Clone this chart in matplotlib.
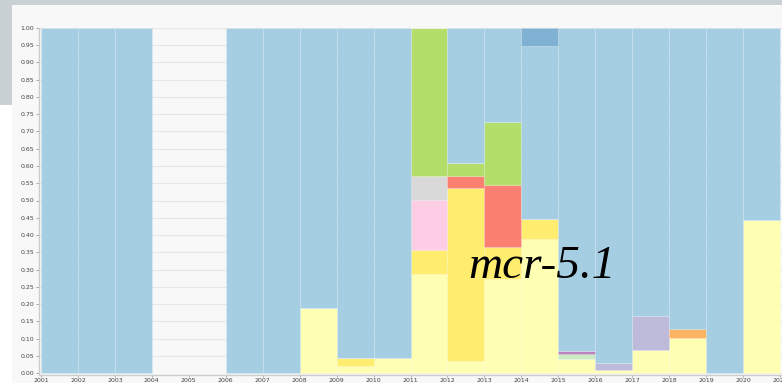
import matplotlib.pyplot as plt
from matplotlib.patches import Rectangle

# years and stacked shares (bottom -> top)
years = list(range(2001, 2021))
light_yellow = [0, 0, 0, 0, 0, 0, 0, 0.19, 0.022, 0.045, 0.286, 0.036, 0.273, 0.389, 0.041, 0.010, 0.067, 0.102, 0, 0.445]
yellow       = [0, 0, 0, 0, 0, 0, 0, 0, 0.022, 0, 0.071, 0.499, 0.092, 0.057, 0, 0, 0, 0, 0, 0]
pink         = [0, 0, 0, 0, 0, 0, 0, 0, 0, 0, 0.144, 0, 0, 0, 0, 0, 0, 0, 0, 0]
grey         = [0, 0, 0, 0, 0, 0, 0, 0, 0, 0, 0.071, 0, 0, 0, 0, 0, 0, 0, 0, 0]
salmon       = [0, 0, 0, 0, 0, 0, 0, 0, 0, 0, 0, 0.037, 0.180, 0, 0, 0, 0, 0, 0, 0]
green        = [0, 0, 0, 0, 0, 0, 0, 0, 0, 0, 0.428, 0.036, 0.183, 0, 0, 0, 0, 0, 0, 0]
light_green  = [0, 0, 0, 0, 0, 0, 0, 0, 0, 0, 0, 0, 0, 0, 0.015, 0, 0, 0, 0, 0]
magenta      = [0, 0, 0, 0, 0, 0, 0, 0, 0, 0, 0, 0, 0, 0, 0.009, 0, 0, 0, 0, 0]
purple       = [0, 0, 0, 0, 0, 0, 0, 0, 0, 0, 0, 0, 0, 0, 0, 0.019, 0.100, 0, 0, 0]
orange       = [0, 0, 0, 0, 0, 0, 0, 0, 0, 0, 0, 0, 0, 0, 0, 0, 0, 0.025, 0, 0]
blue         = [1, 1, 1, 0, 0, 1, 1, 0.81, 0.956, 0.955, 0, 0.392, 0.272, 0.501, 0.935, 0.971, 0.833, 0.873, 1, 0.555]
dark_blue    = [0, 0, 0, 0, 0, 0, 0, 0, 0, 0, 0, 0, 0, 0.053, 0, 0, 0, 0, 0, 0]

series = [
    (light_yellow, '#ffffb3'),
    (yellow, '#ffed6f'),
    (pink, '#fccde5'),
    (grey, '#d9d9d9'),
    (salmon, '#fb8072'),
    (green, '#b3de69'),
    (light_green, '#ccebc5'),
    (magenta, '#bc80bd'),
    (purple, '#bebada'),
    (orange, '#fdb462'),
    (blue, '#a6cee3'),
    (dark_blue, '#80b1d3'),
]

W, H = 782, 383
fig = plt.figure(figsize=(W / 100, H / 100), dpi=100)
fig.patch.set_facecolor('white')

# screenshot frame: grey strip top/left, light panel
fig.patches.append(Rectangle((12 / W, 0), 1, (H - 5) / H, transform=fig.transFigure,
                             facecolor='#f8f8f8', edgecolor='none', zorder=-3))
fig.patches.append(Rectangle((0, (H - 5) / H), 1, 5 / H, transform=fig.transFigure,
                             facecolor='#c9d1d4', edgecolor='none', zorder=-2))
fig.patches.append(Rectangle((0, (H - 105) / H), 12 / W, 105 / H, transform=fig.transFigure,
                             facecolor='#c9d1d4', edgecolor='none', zorder=-2))

px = 36.95  # pixels per year
left_px, right_px = 39, 782
top_px, bottom_px = 27.7, 375.3
ax = fig.add_axes([left_px / W, (H - bottom_px) / H, (right_px - left_px) / W, (bottom_px - top_px) / H])
ax.set_facecolor('#f8f8f8')

bottom = [0] * len(years)
for vals, col in series:
    ax.bar(years, vals, width=1.0, bottom=bottom, align='edge', color=col,
           edgecolor=(1, 1, 1, 0.2), linewidth=0.5, zorder=2)
    bottom = [b + v for b, v in zip(bottom, vals)]

ax.set_xlim(2001 - 2 / px, 2001 + (right_px - 41) / px)
ax.set_ylim(-2 / 345.6, 1.0)

ax.set_yticks([i * 0.05 for i in range(21)])
ax.set_yticklabels(['%.2f' % (i * 0.05) for i in range(21)])
ax.set_xticks(list(range(2001, 2022)))
ax.set_xticklabels([str(y) for y in range(2001, 2022)])

ax.grid(axis='y', color='#e6e6e6', linewidth=0.8, zorder=0)
ax.set_axisbelow(True)

for s in ['top', 'right']:
    ax.spines[s].set_visible(False)
for s in ['left', 'bottom']:
    ax.spines[s].set_color('#cccccc')
    ax.spines[s].set_linewidth(1.0)

ax.tick_params(axis='both', labelsize=4.5, labelcolor='#444444', color='#999999',
               length=2.5, width=0.6, pad=1)
ax.tick_params(axis='x', length=1.5, pad=0.3)

fig.text(468 / W, (H - 278) / H, 'mcr-5.1', fontsize=34, style='italic',
         family=['Liberation Serif', 'DejaVu Serif'], va='baseline', ha='left', color='black')

fig.savefig('out.png', dpi=100)
